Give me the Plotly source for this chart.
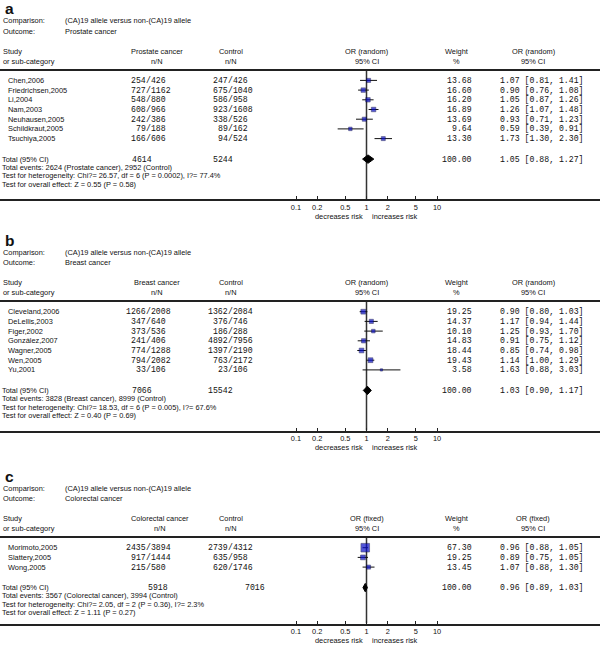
import math
import plotly.graph_objects as go

W, H = 600, 649

# ---------------- DATA ----------------
# Panel a: Prostate cancer (random effects)
a_studies = ["Chen,2006", "Friedrichsen,2005", "Li,2004", "Nam,2003",
             "Neuhausen,2005", "Schildkraut,2005", "Tsuchiya,2005"]
a_case = ["254/426", "727/1162", "548/880", "608/966", "242/386", "79/188", "166/606"]
a_ctrl = ["247/426", "675/1040", "586/958", "923/1608", "338/526", "89/162", "94/524"]
a_weight = [13.68, 16.60, 16.20, 16.89, 13.69, 9.64, 13.30]
a_or = [1.07, 0.90, 1.05, 1.26, 0.93, 0.59, 1.73]
a_lo = [0.81, 0.76, 0.87, 1.07, 0.71, 0.39, 1.30]
a_hi = [1.41, 1.08, 1.26, 1.48, 1.23, 0.91, 2.30]
a_total = {"case": "4614", "ctrl": "5244", "weight": 100.00, "or": 1.05, "lo": 0.88, "hi": 1.27}
a_events = "Total events: 2624 (Prostate cancer), 2952 (Control)"
a_het = "Test for heterogeneity: Chi?= 26.57, df = 6 (P = 0.0002), I?= 77.4%"
a_overall = "Test for overall effect: Z = 0.55 (P = 0.58)"

# Panel b: Breast cancer (random effects)
b_studies = ["Cleveland,2006", "DeLellis,2003", "Figer,2002", "González,2007",
             "Wagner,2005", "Wen,2005", "Yu,2001"]
b_case = ["1266/2008", "347/640", "373/536", "241/406", "774/1288", "794/2082", "33/106"]
b_ctrl = ["1362/2084", "376/746", "186/288", "4892/7956", "1397/2190", "763/2172", "23/106"]
b_weight = [19.25, 14.37, 10.10, 14.83, 18.44, 19.43, 3.58]
b_or = [0.90, 1.17, 1.25, 0.91, 0.85, 1.14, 1.63]
b_lo = [0.80, 0.94, 0.93, 0.75, 0.74, 1.00, 0.88]
b_hi = [1.03, 1.44, 1.70, 1.12, 0.98, 1.29, 3.03]
b_total = {"case": "7066", "ctrl": "15542", "weight": 100.00, "or": 1.03, "lo": 0.90, "hi": 1.17}
b_events = "Total events: 3828 (Breast cancer), 8999 (Control)"
b_het = "Test for heterogeneity: Chi?= 18.53, df = 6 (P = 0.005), I?= 67.6%"
b_overall = "Test for overall effect: Z = 0.40 (P = 0.69)"

# Panel c: Colorectal cancer (fixed effects)
c_studies = ["Morimoto,2005", "Slattery,2005", "Wong,2005"]
c_case = ["2435/3894", "917/1444", "215/580"]
c_ctrl = ["2739/4312", "635/958", "620/1746"]
c_weight = [67.30, 19.25, 13.45]
c_or = [0.96, 0.89, 1.07]
c_lo = [0.88, 0.75, 0.88]
c_hi = [1.05, 1.05, 1.30]
c_total = {"case": "5918", "ctrl": "7016", "weight": 100.00, "or": 0.96, "lo": 0.89, "hi": 1.03}
c_events = "Total events: 3567 (Colorectal cancer), 3994 (Control)"
c_het = "Test for heterogeneity: Chi?= 2.05, df = 2 (P = 0.36), I?= 2.3%"
c_overall = "Test for overall effect: Z = 1.11 (P = 0.27)"

comparison = "(CA)19 allele versus non-(CA)19 allele"
tick_vals = [0.1, 0.2, 0.5, 1, 2, 5, 10]
tick_text = ["0.1", "0.2", "0.5", "1", "2", "5", "10"]

panels = [
    dict(letter="a", outcome="Prostate cancer", model="random", studies=a_studies, case=a_case,
         ctrl=a_ctrl, weight=a_weight, or_=a_or, lo=a_lo, hi=a_hi, total=a_total,
         events=a_events, het=a_het, overall=a_overall),
    dict(letter="b", outcome="Breast cancer", model="random", studies=b_studies, case=b_case,
         ctrl=b_ctrl, weight=b_weight, or_=b_or, lo=b_lo, hi=b_hi, total=b_total,
         events=b_events, het=b_het, overall=b_overall),
    dict(letter="c", outcome="Colorectal cancer", model="fixed", studies=c_studies, case=c_case,
         ctrl=c_ctrl, weight=c_weight, or_=c_or, lo=c_lo, hi=c_hi, total=c_total,
         events=c_events, het=c_het, overall=c_overall),
]

# ---------------- LAYOUT (pixels) ----------------
geom = [
    dict(Y0=70.7, gap=15, case_hdr=157, tot_case=152, tot_ctrl=233),
    dict(Y0=302, gap=15.2, case_hdr=157, tot_case=152, tot_ctrl=233),
    dict(Y0=538, gap=11, case_hdr=160, tot_case=168, tot_ctrl=265),
]
ROW = 9.7          # px between study rows
TOT_GAP = 20.5     # px last row -> total
LINE_GAP = 8.3     # px between footer lines
ONE_X = 366.5      # px of OR = 1
DECADE = 70.5      # px per log decade
X_RANGE = [-ONE_X / DECADE, (W - ONE_X) / DECADE]

SANS = "Liberation Sans, Arial, sans-serif"
MONO = "Liberation Mono, Courier New, monospace"
FS = 7.4
FM = 8.2
INK = "#111111"

fig = go.Figure()
annotations = []


def px_x(p):
    return p / W


def px_y(p):
    return 1 - p / H


def add_text(text, x, y, yref="paper", xanchor="left", font=SANS, size=FS, bold=False):
    annotations.append(dict(
        text=f"<b>{text}</b>" if bold else text, x=px_x(x), y=y, xref="paper", yref=yref,
        xanchor=xanchor, yanchor="middle", showarrow=False, borderpad=0, borderwidth=0,
        font=dict(family=font, size=size, color=INK)))


layout_axes = {}
for k, (p, g) in enumerate(zip(panels, geom), start=1):
    sfx = "" if k == 1 else str(k)
    yname = "y" + sfx
    n = len(p["studies"])
    Y0 = g["Y0"]
    tot_px = Y0 + ROW * n + TOT_GAP
    axis_px = tot_px + 3 * LINE_GAP + g["gap"]
    # row index <-> pixel mapping:  pixel = Y0 + ROW*(idx+1)
    to_idx = lambda pix: (pix - Y0) / ROW - 1
    y_top, y_bot = to_idx(Y0), to_idx(axis_px)
    tot_idx = to_idx(tot_px)

    layout_axes["xaxis" + sfx] = dict(
        type="log", range=X_RANGE, domain=[0, 1], anchor=yname,
        showline=True, mirror=True, linecolor="#222222", linewidth=1.5,
        ticks="inside", ticklen=3, tickwidth=1, tickcolor="#222222",
        tickvals=tick_vals, ticktext=tick_text,
        tickfont=dict(family=SANS, size=FS, color=INK),
        showgrid=False, zeroline=False, fixedrange=True)
    layout_axes["yaxis" + sfx] = dict(
        domain=[px_y(axis_px), px_y(Y0)], range=[y_bot, y_top], anchor="x" + sfx,
        visible=False, showgrid=False, zeroline=False, fixedrange=True)

    xr, yr = "x" + sfx, yname
    # line of no effect
    fig.add_trace(go.Scatter(x=[1, 1], y=[y_top, y_bot], mode="lines", xaxis=xr, yaxis=yr,
                             line=dict(color="#333333", width=1.5), hoverinfo="skip",
                             showlegend=False))
    # study estimates
    idx = list(range(n))
    fig.add_trace(go.Scatter(
        x=p["or_"], y=idx, mode="markers", xaxis=xr, yaxis=yr, showlegend=False,
        marker=dict(symbol="square", size=[math.sqrt(w) + 0.4 for w in p["weight"]],
                    color="#0a0fc8", line=dict(color="#00003a", width=0.6)),
        error_x=dict(type="data", symmetric=False,
                     array=[h - o for h, o in zip(p["hi"], p["or_"])],
                     arrayminus=[o - l for o, l in zip(p["or_"], p["lo"])],
                     color="#111111", thickness=1, width=0)))
    # pooled diamond
    t = p["total"]
    hh = 4.2 / ROW
    fig.add_trace(go.Scatter(
        x=[t["lo"], t["or"], t["hi"], t["or"], t["lo"]],
        y=[tot_idx, tot_idx - hh, tot_idx, tot_idx + hh, tot_idx],
        mode="lines", fill="toself", fillcolor="#000000", xaxis=xr, yaxis=yr,
        line=dict(color="#000000", width=1), hoverinfo="skip", showlegend=False))

    # ----- header texts -----
    add_text(p["letter"], 5, px_y(Y0 - 62), size=15.5, bold=True)
    add_text("Comparison:", 3, px_y(Y0 - 50))
    add_text(comparison, 65, px_y(Y0 - 50))
    add_text("Outcome:", 3, px_y(Y0 - 39.5))
    add_text(p["outcome"], 65, px_y(Y0 - 39.5))
    h1, h2 = px_y(Y0 - 19.5), px_y(Y0 - 9.3)
    add_text("Study", 3, h1)
    add_text("or sub-category", 3, h2)
    add_text(p["outcome"], g["case_hdr"], h1, xanchor="center")
    add_text("n/N", g["case_hdr"], h2, xanchor="center")
    add_text("Control", 231, h1, xanchor="center")
    add_text("n/N", 231, h2, xanchor="center")
    add_text(f"OR ({p['model']})", ONE_X, h1, xanchor="center")
    add_text("95% CI", ONE_X, h2, xanchor="center")
    add_text("Weight", 456, h1, xanchor="center")
    add_text("%", 456, h2, xanchor="center")
    add_text(f"OR ({p['model']})", 533, h1, xanchor="center")
    add_text("95% CI", 533, h2, xanchor="center")

    # ----- study rows -----
    for i in idx:
        add_text(p["studies"][i], 8, i, yref=yr)
        for val, sl in ((p["case"][i], 145.5), (p["ctrl"][i], 227.5)):
            num, den = val.split("/")
            add_text(num, sl, i, yref=yr, xanchor="right", font=MONO, size=FM)
            add_text("/" + den, sl, i, yref=yr, xanchor="left", font=MONO, size=FM)
        add_text(f"{p['weight'][i]:.2f}", 472, i, yref=yr, xanchor="right", font=MONO, size=FM)
        add_text(f"{p['or_'][i]:.2f} [{p['lo'][i]:.2f}, {p['hi'][i]:.2f}]", 500, i,
                 yref=yr, font=MONO, size=FM)

    # ----- totals and footer -----
    add_text("Total (95% CI)", 2, tot_idx, yref=yr)
    add_text(t["case"], g["tot_case"], tot_idx, yref=yr, xanchor="right", font=MONO, size=FM)
    add_text(t["ctrl"], g["tot_ctrl"], tot_idx, yref=yr, xanchor="right", font=MONO, size=FM)
    add_text(f"{t['weight']:.2f}", 472, tot_idx, yref=yr, xanchor="right", font=MONO, size=FM)
    add_text(f"{t['or']:.2f} [{t['lo']:.2f}, {t['hi']:.2f}]", 500, tot_idx, yref=yr,
             font=MONO, size=FM)
    step = LINE_GAP / ROW
    add_text(p["events"], 2, tot_idx + step, yref=yr)
    add_text(p["het"], 2, tot_idx + 2 * step, yref=yr)
    add_text(p["overall"], 2, tot_idx + 3 * step, yref=yr)
    add_text("decreases risk", 363, px_y(axis_px + 17), xanchor="right")
    add_text("increases risk", 372, px_y(axis_px + 17), xanchor="left")

fig.update_layout(
    width=W, height=H, autosize=False,
    margin=dict(l=0, r=0, t=0, b=0, pad=0),
    paper_bgcolor="white", plot_bgcolor="white",
    showlegend=False, annotations=annotations, **layout_axes)

fig.write_html("out.html", config={"displayModeBar": False},
               post_script="document.body.style.margin='0';document.body.style.overflow='hidden';")
